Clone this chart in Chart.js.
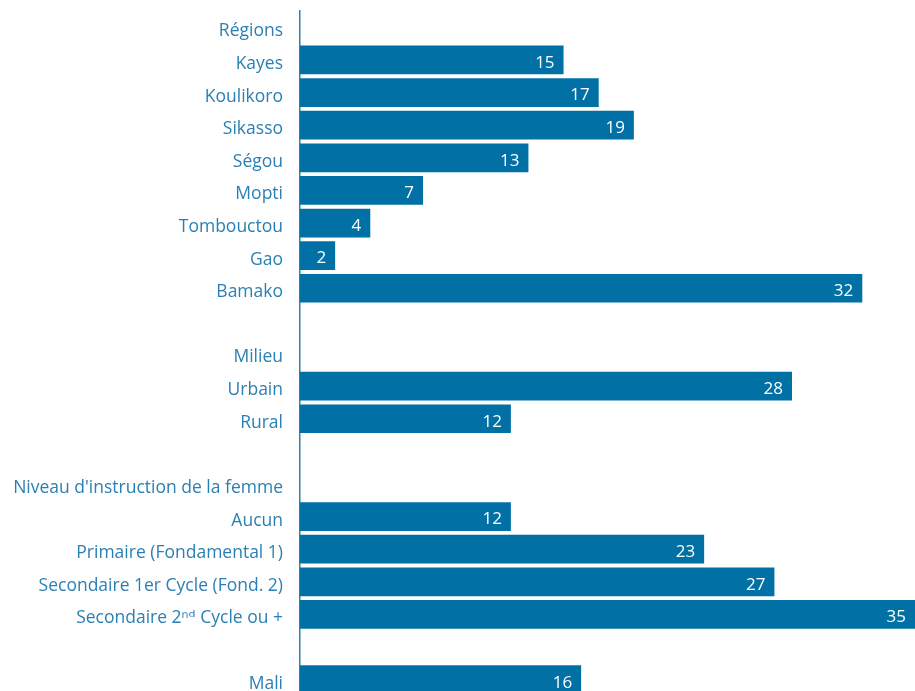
<!DOCTYPE html>
<html lang="fr">
<head>
<meta charset="utf-8">
<title>Indicateur par région, milieu et niveau d'instruction</title>
<script src="https://cdn.jsdelivr.net/npm/chart.js@4/dist/chart.umd.min.js"></script>
<style>
  html, body { margin: 0; padding: 0; background: #ffffff; overflow: hidden; }
  #wrap { position: relative; width: 915px; height: 696px; }
</style>
</head>
<body>
<div id="wrap"><canvas id="chart" width="915" height="696"></canvas></div>
<script>
// Row labels (group headings have no bar)
const categories = [
  "Régions", "Kayes", "Koulikoro", "Sikasso", "Ségou", "Mopti", "Tombouctou", "Gao", "Bamako",
  "",
  "Milieu", "Urbain", "Rural",
  "",
  "Niveau d'instruction de la femme", "Aucun", "Primaire (Fondamental 1)",
  "Secondaire 1er Cycle (Fond. 2)", "Secondaire 2ⁿᵈ Cycle ou +",
  "",
  "Mali"
];

// Values per row (null = heading or spacer row)
const regionValues = [null, 15, 17, 19, 13, 7, 4, 2, 32];
const milieuValues = [null, null, 28, 12];
const instructionValues = [null, null, 12, 23, 27, 35];
const maliValues = [null, 16];

const values = [...regionValues, ...milieuValues, ...instructionValues, ...maliValues];

const BAR_COLOR = "#0070a5";
const TEXT_COLOR = "#2a80b4";
const FONT = "'Open Sans', 'DejaVu Sans', sans-serif";

// Writes the value inside the right end of each bar
const valueLabels = {
  id: "valueLabels",
  afterDatasetsDraw(chart) {
    const ctx = chart.ctx;
    const meta = chart.getDatasetMeta(0);
    ctx.save();
    ctx.fillStyle = "#ffffff";
    ctx.font = "17px " + FONT;
    ctx.textAlign = "right";
    ctx.textBaseline = "middle";
    meta.data.forEach((bar, i) => {
      const v = chart.data.datasets[0].data[i];
      if (v === null || v === undefined) return;
      ctx.fillText(String(v), bar.x - 9, bar.y + 3);
    });
    ctx.restore();
  }
};

new Chart(document.getElementById("chart"), {
  type: "bar",
  data: {
    labels: categories,
    datasets: [{
      data: values,
      backgroundColor: BAR_COLOR,
      borderWidth: 0,
      barPercentage: 0.88,
      categoryPercentage: 1.0
    }]
  },
  options: {
    indexAxis: "y",
    responsive: false,
    animation: false,
    events: [],
    layout: { padding: { top: 11, right: 0, bottom: 0, left: 0 } },
    plugins: {
      legend: { display: false },
      tooltip: { enabled: false }
    },
    scales: {
      x: {
        display: false,
        min: 0,
        max: 35
      },
      y: {
        afterFit(scale) {
          scale.width = 300;
          scale.paddingTop = 0;
          scale.paddingBottom = 0;
        },
        grid: { display: false, drawTicks: false },
        border: { display: true, color: "#2a80b4", width: 1.5 },
        ticks: {
          color: TEXT_COLOR,
          font: { family: FONT, size: 17.5 },
          padding: 17,
          labelOffset: 4,
          autoSkip: false
        }
      }
    }
  },
  plugins: [valueLabels]
});
</script>
</body>
</html>
